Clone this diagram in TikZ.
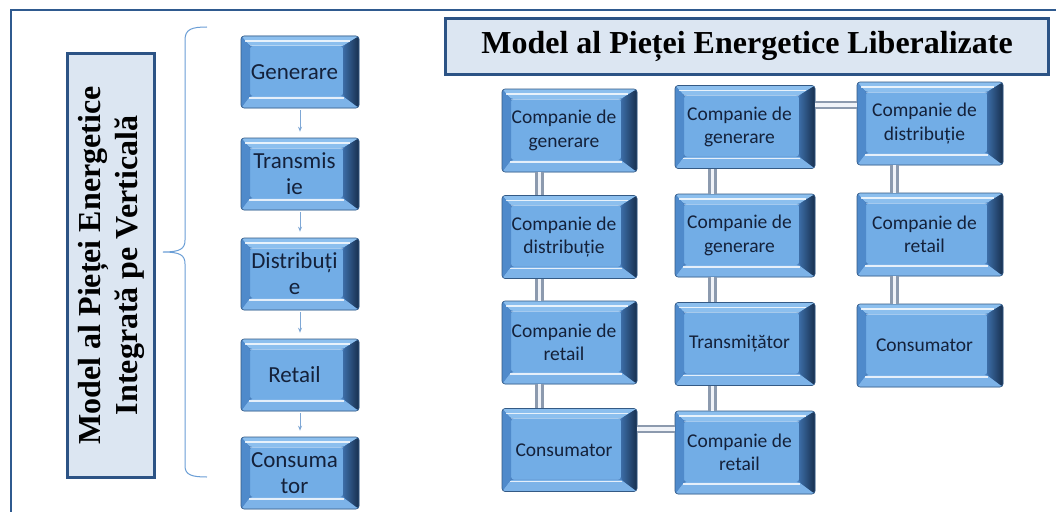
\documentclass[tikz,border=0pt]{standalone}
\usepackage{fontspec}
\setmainfont{Liberation Serif}
\newfontfamily\calib{Carlito}
\usetikzlibrary{arrows.meta,calc}
\definecolor{frameblue}{HTML}{2F5A8F}
\definecolor{panelfill}{HTML}{DCE6F2}
\definecolor{paneldraw}{HTML}{2C5385}
\definecolor{bedge}{HTML}{4A80BE}
\definecolor{bface}{HTML}{72ADE6}
\definecolor{btop}{HTML}{8CBFEE}
\definecolor{bbot}{HTML}{7DB3E8}
\definecolor{bleft}{HTML}{4F8ACB}
\definecolor{brightA}{HTML}{3C6DA6}
\definecolor{brightB}{HTML}{172F4E}
\definecolor{tubeedge}{HTML}{8C9AAE}
\definecolor{tubemid}{HTML}{F0F3F8}
\definecolor{bracecol}{HTML}{6A9ED6}
\definecolor{arrowcol}{HTML}{7EA7D5}
\definecolor{boxtext}{HTML}{14213A}
\newcommand{\tl}{\hspace*{-11pt}}
\tikzset{
 bev/.style={rectangle, rounded corners=3pt, fill=bedge, draw=bedge!70!black, line width=0.6pt,
  text=boxtext, align=center, inner sep=0pt,
  path picture={
   \path (path picture bounding box.north west) coordinate (pnw)
         (path picture bounding box.south east) coordinate (pse);
   \path ([shift={(9pt,-10pt)}]pnw) coordinate (qnw)
         ([shift={(-16pt,12pt)}]pse) coordinate (qse);
   \path (pnw -| pse) coordinate (pne) (pnw |- pse) coordinate (psw)
         (qnw -| qse) coordinate (qne) (qnw |- qse) coordinate (qsw);
   \fill[bface] (qnw) rectangle (qse);
   \fill[btop] (pnw) -- (pne) -- (qne) -- (qnw) -- cycle;
   \fill[bbot] (psw) -- (pse) -- (qse) -- (qsw) -- cycle;
   \fill[bleft] (pnw) -- (qnw) -- (qsw) -- (psw) -- cycle;
   \shade[left color=brightA, right color=brightB] (pne) -- (pse) -- (qse) -- (qne) -- cycle;
   \draw[white, opacity=.8, line width=1.6pt] ([shift={(4pt,-5pt)}]pnw) -- ([shift={(-9pt,-5pt)}]pne);
   \draw[white, opacity=.8, line width=1.8pt] ([shift={(-1pt,-2pt)}]qsw) -- ([shift={(1pt,-2pt)}]qse);
   \draw[white, opacity=.35, line width=1pt] (qnw) -- (qne);
  }},
 lbox/.style={bev, minimum width=118pt, minimum height=72pt, font=\calib\fontsize{23}{26}\selectfont},
 rbox/.style={bev, minimum height=83pt, font=\calib\fontsize{19.5}{23.5}\selectfont},
 panel/.style={draw=paneldraw, line width=3pt, fill=panelfill, inner sep=0pt, align=center, text=black},
 tube/.style={draw=tubeedge, line width=2.6pt, double=tubemid, double distance=3.4pt},
 smallarrow/.style={draw=arrowcol, line width=0.8pt, -{Stealth[length=5pt,width=4pt]}, shorten <=2pt, shorten >=6pt},
 bracestyle/.style={draw=bracecol, line width=1pt}
}
\begin{document}
\begin{tikzpicture}[x=1pt,y=-1pt]
\useasboundingbox (0,0) rectangle (1056,511);
\fill[white] (0,0) rectangle (1056,511);
\draw[frameblue, line width=2.5pt] (11,10) rectangle (1080,540);

% left vertical panel
\node[panel, rotate=90, minimum width=424pt, minimum height=87pt,
      font=\bfseries\fontsize{32}{37}\selectfont] (vbox) at (111,265.5)
      {Model al Pieței Energetice\\Integrată pe Verticală};

% brace
\draw[bracestyle] (207,27) .. controls (192,27) and (185,29) .. (185,40) -- (185,240)
  .. controls (185,249) and (180,252) .. (163,252)
  .. controls (180,252) and (185,255) .. (185,264) -- (185,466)
  .. controls (185,475) and (192,477) .. (207,477);

% left column
\node[lbox] (L1) at (300,72) {\tl Generare};
\node[lbox] (L2) at (300,174) {\tl Transmis\\\tl ie};
\node[lbox] (L3) at (300,274) {\tl Distribuți\\\tl e};
\node[lbox] (L4) at (300,375) {\tl Retail};
\node[lbox] (L5) at (300,473) {\tl Consuma\\\tl tor};
\draw[smallarrow] (L1.south) -- (L2.north);
\draw[smallarrow] (L2.south) -- (L3.north);
\draw[smallarrow] (L3.south) -- (L4.north);
\draw[smallarrow] (L4.south) -- (L5.north);

% title
\node[panel, minimum width=603pt, minimum height=56pt,
      font=\bfseries\fontsize{32}{38}\selectfont] (title) at (747,46.5)
      {Model al Pieței Energetice Liberalizate};

% right boxes
\node[rbox, minimum width=135pt] (A1) at (569.5,130.5) {\tl Companie de\\\tl generare};
\node[rbox, minimum width=135pt] (A2) at (569.5,237) {\tl Companie de\\\tl distribuție};
\node[rbox, minimum width=135pt] (A3) at (569.5,342.5) {\tl Companie de\\\tl retail};
\node[rbox, minimum width=135pt] (A4) at (569.5,450) {\tl Consumator};
\node[rbox, minimum width=140pt] (B1) at (745,127) {\tl Companie de\\\tl generare};
\node[rbox, minimum width=140pt] (B2) at (745,235.5) {\tl Companie de\\\tl generare};
\node[rbox, minimum width=140pt] (B3) at (745,344) {\tl Transmițător};
\node[rbox, minimum width=140pt] (B4) at (745,452.5) {\tl Companie de\\\tl retail};
\node[rbox, minimum width=146pt] (C1) at (930,123.5) {\tl Companie de\\\tl distribuție};
\node[rbox, minimum width=146pt] (C2) at (930,234.5) {\tl Companie de\\\tl retail};
\node[rbox, minimum width=146pt] (C3) at (930,345.5) {\tl Consumator};

% tubes
\draw[tube] ([xshift=38pt]A1.south west) -- ([xshift=38pt]A2.north west);
\draw[tube] ([xshift=38pt]A2.south west) -- ([xshift=38pt]A3.north west);
\draw[tube] ([xshift=38pt]A3.south west) -- ([xshift=38pt]A4.north west);
\draw[tube] ([xshift=38pt]B1.south west) -- ([xshift=38pt]B2.north west);
\draw[tube] ([xshift=38pt]B2.south west) -- ([xshift=38pt]B3.north west);
\draw[tube] ([xshift=38pt]B3.south west) -- ([xshift=38pt]B4.north west);
\draw[tube] ([xshift=38pt]C1.south west) -- ([xshift=38pt]C2.north west);
\draw[tube] ([xshift=38pt]C2.south west) -- ([xshift=38pt]C3.north west);
\coordinate (h1) at ([yshift=22pt]B1.east);
\draw[tube] (h1) -- (h1 -| C1.west);
\coordinate (h2) at ([yshift=21pt]A4.east);
\draw[tube] (h2) -- (h2 -| B4.west);
\end{tikzpicture}
\end{document}
